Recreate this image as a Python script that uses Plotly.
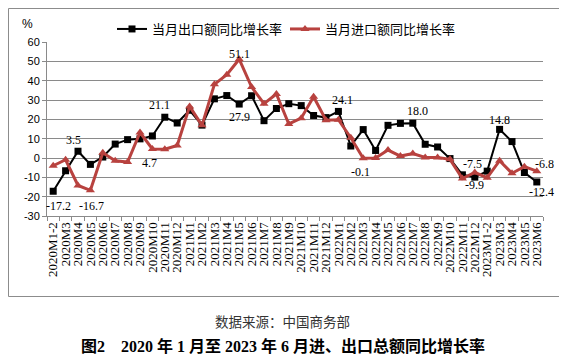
import plotly.graph_objects as go

# ---------------- data ----------------
categories = (
    ["2020M1-2"] + [f"2020M{m}" for m in range(3, 13)]
    + [f"2021M{m}" for m in range(1, 13)]
    + [f"2022M{m}" for m in range(1, 13)]
    + ["2023M1-2"] + [f"2023M{m}" for m in range(3, 7)]
)

export_growth = [-17.2, -6.6, 3.5, -3.3, 0.5, 7.2, 9.5, 9.9, 11.4, 21.1, 18.1,
                 24.7, 17.0, 30.6, 32.3, 27.9, 32.2, 19.3, 25.6, 28.1, 27.1, 22.0, 20.9,
                 24.1, 6.2, 14.7, 3.9, 16.9, 17.9, 18.0, 7.1, 5.7, -0.3, -8.7, -9.9,
                 -6.8, 14.8, 8.5, -7.5, -12.4]

import_growth = [-4.0, -0.9, -14.2, -16.7, 2.7, -1.4, -2.1, 13.2, 4.7, 4.5, 6.5,
                 26.7, 16.9, 38.1, 43.1, 51.1, 36.7, 28.1, 33.1, 17.6, 20.6, 31.7, 19.5,
                 19.8, 10.5, -0.1, 0.0, 4.1, 1.0, 2.3, 0.3, 0.3, -0.7, -10.6, -7.5,
                 -10.2, -1.4, -7.9, -4.5, -6.8]

export_name = "当月出口额同比增长率"
import_name = "当月进口额同比增长率"

export_labeled = [0, 2, 9, 15, 23, 29, 34, 36, 39]
import_labeled = [3, 8, 15, 25, 34, 39]

y_ticks = [-30, -20, -10, 0, 10, 20, 30, 40, 50, 60]

source_text = "数据来源：中国商务部"
title_text = "图2\u00a0\u00a0\u00a0 2020 年 1 月至 2023 年 6 月进、出口总额同比增长率"

# ---------------- style ----------------
BLACK = "#000000"
RED = "#B8423F"
GRID = "#8a8a8a"
SERIF = "Liberation Serif, Times New Roman, Noto Sans CJK SC, serif"
SANS = "Liberation Sans, Arial, sans-serif"
CJK = "Noto Sans CJK SC, sans-serif"

# the page body has an 8px margin; the figure is sized to fill the rest of the window
OFF = 8
W, H = 567 - OFF, 363 - OFF
L, T = 47 - OFF, 42 - OFF
R = W - (543 - OFF)
B = H - (216 - OFF)
PW, PH = W - L - R, H - T - B


def px_x(x):  # screen x -> paper fraction
    return (x - OFF - L) / PW


def px_y(y):  # screen y -> paper fraction
    return (H - B - (y - OFF)) / PH


# label offsets (px): (xshift, yshift)
export_offsets = {0: (5, -15), 2: (-5, 11.5), 9: (-5, 12), 15: (0, -12.6), 23: (4.5, 11.4),
                  29: (4.6, 12), 34: (0, -8), 36: (0, 9.4), 39: (5, -10)}
import_offsets = {3: (1, -15.4), 8: (-2.5, -13.8), 15: (0, 5.5), 25: (-2.3, -13.5),
                  34: (-2, 8.2), 39: (8, 7)}

fig = go.Figure()
fig.add_trace(go.Scatter(
    x=categories, y=export_growth, name=export_name, mode="lines+markers",
    line=dict(color=BLACK, width=2),
    marker=dict(symbol="square", size=7, color=BLACK),
    cliponaxis=False,
))
fig.add_trace(go.Scatter(
    x=categories, y=import_growth, name=import_name, mode="lines+markers",
    line=dict(color=RED, width=3),
    marker=dict(symbol="triangle-up", size=8, color=RED),
    cliponaxis=False,
))

annotations = []
for i in export_labeled:
    dx, dy = export_offsets[i]
    annotations.append(dict(x=categories[i], y=export_growth[i], xref="x", yref="y",
                            text=f"{export_growth[i]:.1f}", showarrow=False,
                            xanchor="center", yanchor="middle",
                            xshift=dx, yshift=dy, font=dict(family=SERIF, size=12, color="#000")))
for i in import_labeled:
    dx, dy = import_offsets[i]
    annotations.append(dict(x=categories[i], y=import_growth[i], xref="x", yref="y",
                            text=f"{import_growth[i]:.1f}", showarrow=False,
                            xanchor="center", yanchor="middle",
                            xshift=dx, yshift=dy, font=dict(family=SERIF, size=12, color="#000")))

annotations.append(dict(x=px_x(27.5), y=px_y(23.5), xref="paper", yref="paper", text="%",
                        xanchor="center", yanchor="middle",
                        showarrow=False, font=dict(family=SANS, size=12, color="#000")))
annotations.append(dict(x=px_x(282), y=px_y(321), xref="paper", yref="paper", text=source_text,
                        xanchor="center", yanchor="middle",
                        showarrow=False, font=dict(family=CJK, size=13.5, color="#333")))
annotations.append(dict(x=px_x(283), y=px_y(346), xref="paper", yref="paper",
                        text="<b>" + title_text + "</b>",
                        xanchor="center", yanchor="middle",
                        showarrow=False, font=dict(family=SERIF, size=16, color="#000")))

fig.update_layout(
    template="none",
    width=W, height=H,
    margin=dict(l=L, r=R, t=T, b=B, autoexpand=False),
    paper_bgcolor="white", plot_bgcolor="white",
    showlegend=True,
    legend=dict(orientation="h", xref="container", yref="container",
                x=(112 - OFF) / W, y=1 - (29 - OFF) / H, xanchor="left", yanchor="middle",
                font=dict(family=CJK, size=13, color="#000"),
                itemwidth=30, entrywidth=128, entrywidthmode="pixels",
                bgcolor="rgba(0,0,0,0)", borderwidth=0, traceorder="normal"),
    annotations=annotations,
    shapes=[dict(type="rect", xref="paper", yref="paper",
                 x0=px_x(8.5), x1=px_x(559.5), y0=px_y(296.5), y1=px_y(8.5),
                 line=dict(color="#8c8c8c", width=1), fillcolor="rgba(0,0,0,0)", layer="below")],
)

fig.update_xaxes(
    type="category", tickangle=-90, tickmode="array", tickvals=categories, ticktext=categories,
    tickfont=dict(family=SERIF, size=13, color="#000"),
    showgrid=False, showline=True, linecolor=GRID, linewidth=1,
    ticks="outside", tickson="boundaries", ticklen=4, tickcolor=GRID,
    range=[-0.5, len(categories) - 0.5], zeroline=False, automargin=False,
)
fig.update_yaxes(
    range=[-30, 60], tickvals=y_ticks, ticktext=[str(v) for v in y_ticks],
    tickfont=dict(family=SANS, size=11, color="#000"),
    showgrid=True, gridcolor=GRID, gridwidth=1,
    showline=True, linecolor=GRID, linewidth=1,
    ticks="outside", ticklen=4, tickcolor=GRID, zeroline=False, automargin=False,
)

fig.write_html("out.html")
